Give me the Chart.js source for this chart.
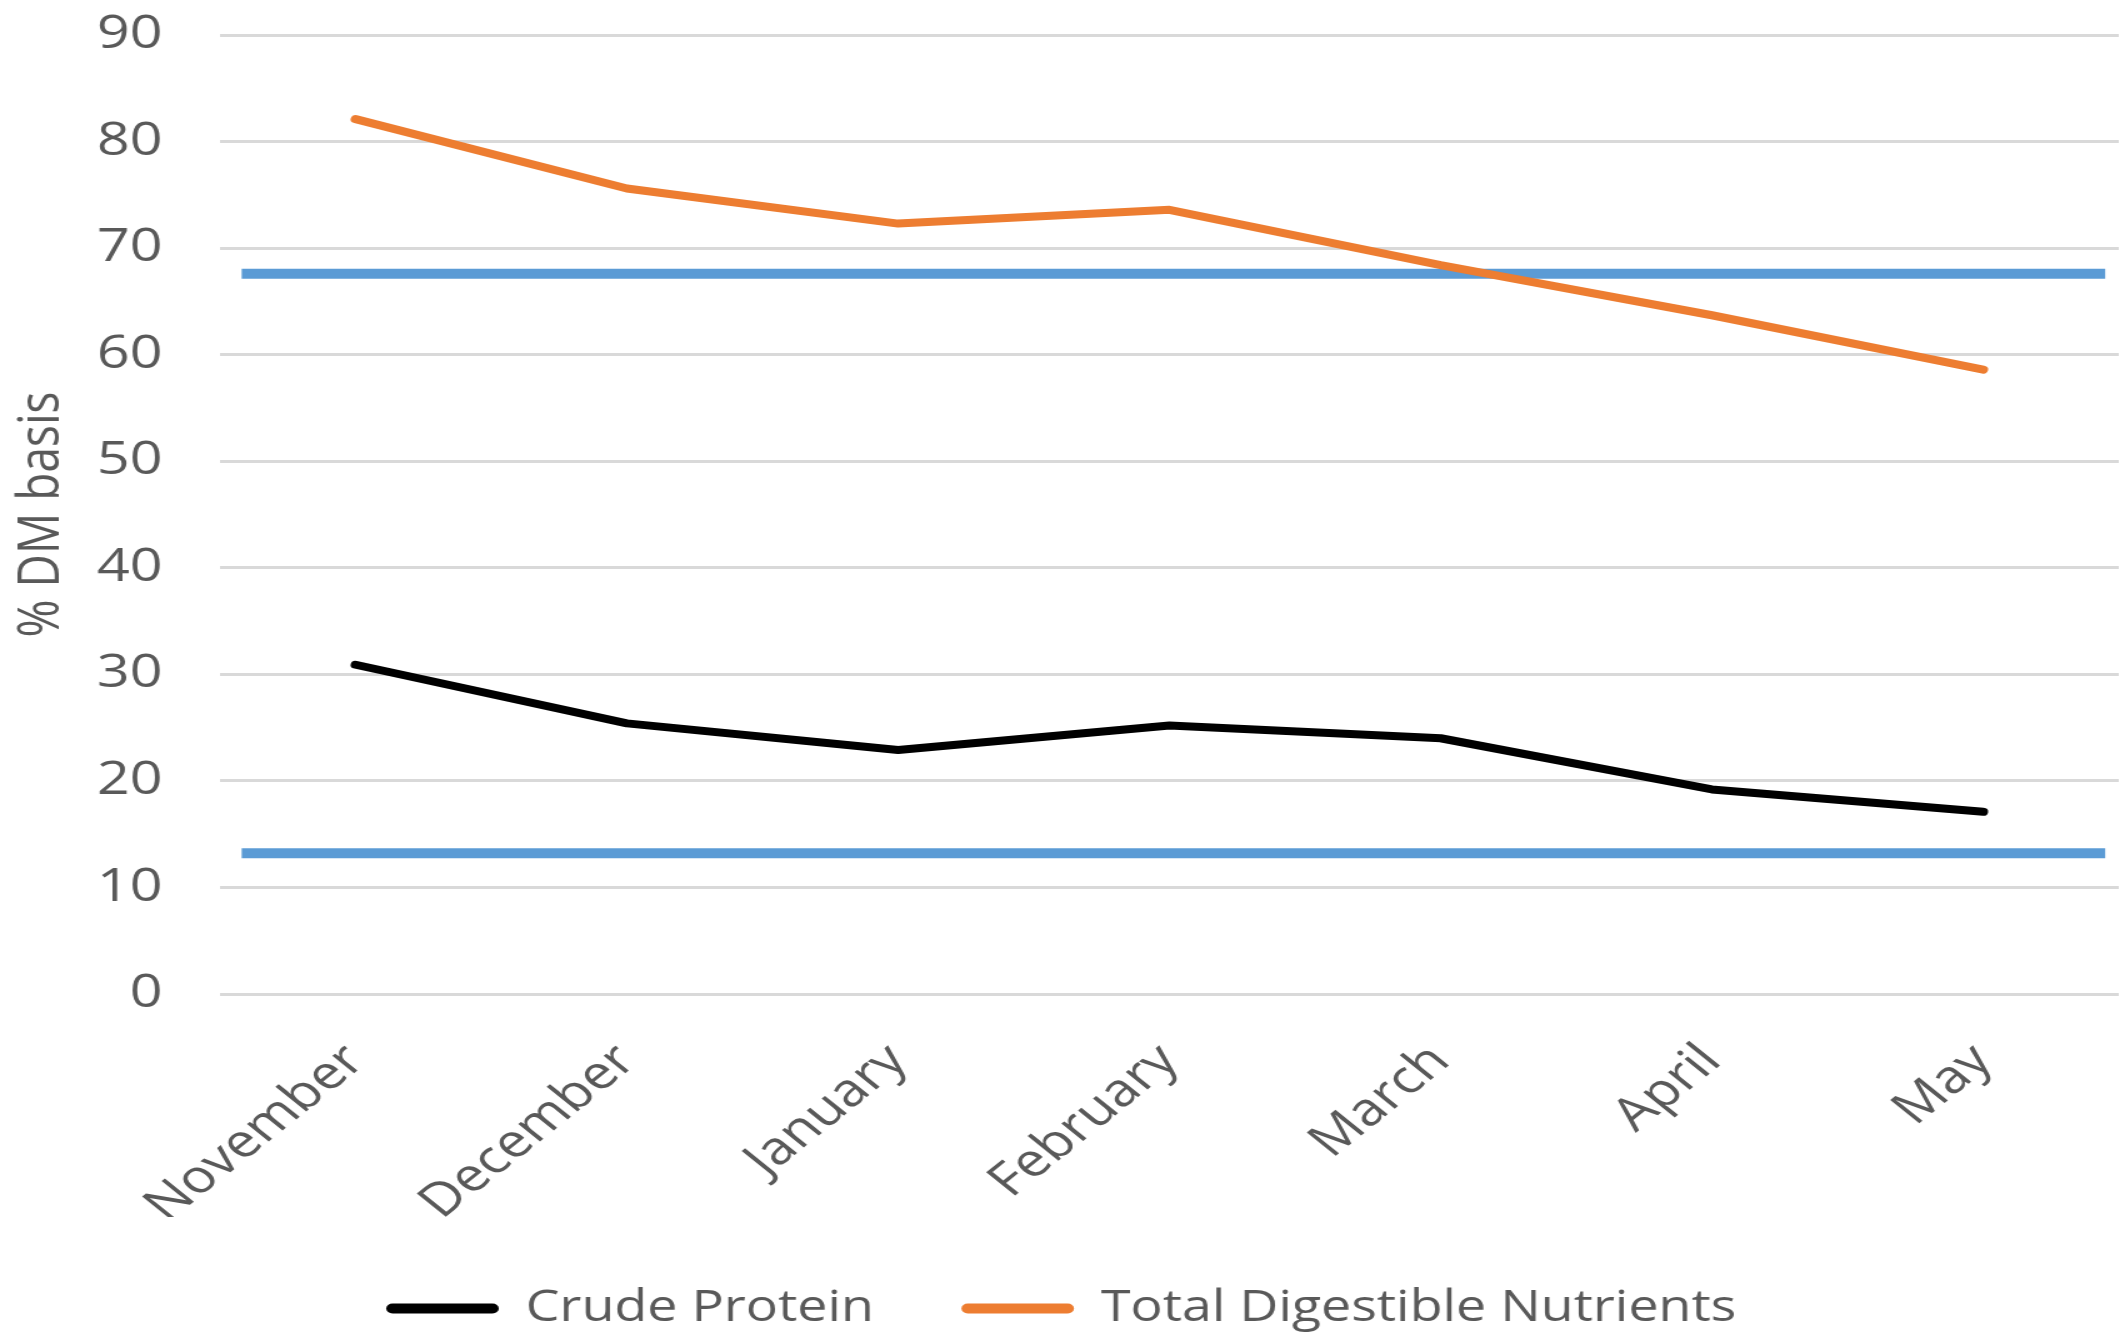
<!DOCTYPE html>
<html>
<head>
<meta charset="utf-8">
<script src="https://cdn.jsdelivr.net/npm/chart.js@4.4.1/dist/chart.umd.min.js"></script>
<style>
  html, body { margin: 0; padding: 0; background: #ffffff; overflow: hidden; }
  /* the chart is laid out narrow and widened horizontally, giving the broad lettering */
  #wrap { position: absolute; left: 0; top: 0; width: 1700px; height: 1340px;
          transform: scaleX(1.25); transform-origin: 0 0; }
</style>
</head>
<body>
<div id="wrap"><canvas id="chart"></canvas></div>
<script>
const months = ['November', 'December', 'January', 'February', 'March', 'April', 'May'];
const crudeProtein = [30.9, 25.4, 22.9, 25.2, 24.0, 19.2, 17.1];
const totalDigestibleNutrients = [82.1, 75.6, 72.3, 73.6, 68.4, 63.7, 58.6];
const tdnRequirement = 67.6;
const proteinRequirement = 13.2;
const yTicks = [0, 10, 20, 30, 40, 50, 60, 70, 80, 90];
// requirement lines run across the whole plot, in category-index units
const requirementSpan = [-0.42, 6.45];

const textColor = '#595959';
const font = 'Open Sans';

function flatLine(value) {
  return requirementSpan.map(x => ({ x: x, y: value }));
}

new Chart(document.getElementById('chart'), {
  type: 'line',
  data: {
    labels: months,
    datasets: [
      { label: 'Crude Protein', data: crudeProtein, borderColor: '#000000', backgroundColor: '#000000',
        borderWidth: 8, pointRadius: 0, tension: 0, borderCapStyle: 'round', borderJoinStyle: 'round' },
      { label: 'Total Digestible Nutrients', data: totalDigestibleNutrients, borderColor: '#ED7D31', backgroundColor: '#ED7D31',
        borderWidth: 8, pointRadius: 0, tension: 0, borderCapStyle: 'round', borderJoinStyle: 'round' },
      { label: 'TDN requirement', data: flatLine(tdnRequirement), xAxisID: 'x2', borderColor: '#5B9BD5',
        borderWidth: 10, pointRadius: 0, borderCapStyle: 'butt' },
      { label: 'Protein requirement', data: flatLine(proteinRequirement), xAxisID: 'x2', borderColor: '#5B9BD5',
        borderWidth: 10, pointRadius: 0, borderCapStyle: 'butt' }
    ]
  },
  options: {
    responsive: true,
    maintainAspectRatio: false,
    devicePixelRatio: 1,
    animation: false,
    layout: { padding: { top: 35, right: 2, left: 0, bottom: 0 } },
    plugins: {
      tooltip: { enabled: false },
      legend: {
        position: 'bottom',
        labels: {
          color: textColor,
          font: { family: font, size: 43 },
          boxWidth: 90,
          boxHeight: 10,
          padding: 70,
          useBorderRadius: true,
          borderRadius: 5,
          filter: item => item.datasetIndex < 2,
          generateLabels: chart => chart.data.datasets.map((ds, i) => ({
            text: ds.label,
            fillStyle: ds.borderColor,
            strokeStyle: ds.borderColor,
            lineWidth: 0,
            borderRadius: 5,
            fontColor: textColor,
            datasetIndex: i,
            hidden: false
          }))
        }
      }
    },
    scales: {
      x: {
        type: 'category',
        offset: true,
        afterFit: scale => { scale.height = 223; },
        grid: { display: false, drawTicks: false },
        border: { display: false },
        ticks: {
          color: textColor,
          font: { family: font, size: 46 },
          minRotation: 45,
          maxRotation: 45,
          padding: 40
        }
      },
      x2: {
        type: 'linear',
        display: false,
        min: -0.5,
        max: 6.5
      },
      y: {
        min: 0,
        max: 90,
        afterFit: scale => {
          scale.width = 176;
          // the top and bottom labels may overhang the plot edge
          scale.paddingTop = 0;
          scale.paddingBottom = 0;
        },
        afterBuildTicks: scale => { scale.ticks = yTicks.map(v => ({ value: v })); },
        grid: { color: '#D9D9D9', lineWidth: 3, drawTicks: false },
        border: { display: false },
        ticks: {
          color: textColor,
          font: { family: font, size: 46 },
          padding: 46
        },
        title: {
          display: true,
          text: '% DM basis',
          color: textColor,
          font: { family: font, size: 46 },
          padding: { top: 6, bottom: 0 }
        }
      }
    }
  }
});
</script>
</body>
</html>
